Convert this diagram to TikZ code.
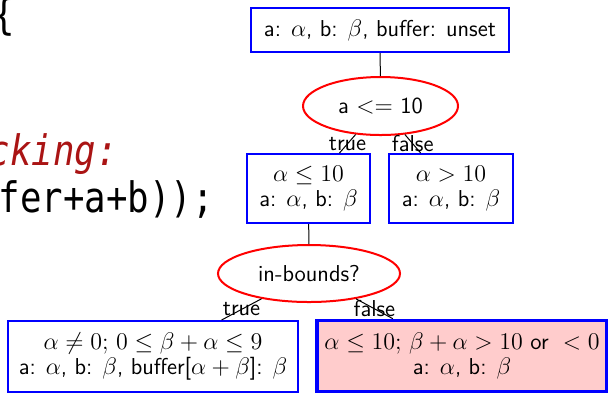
\documentclass[tikz,border=0pt]{standalone}
\usepackage{fontspec}
\setmonofont{DejaVu Sans Mono}
\usetikzlibrary{shapes.geometric}
\definecolor{cmtred}{RGB}{170,20,20}
\definecolor{failpink}{RGB}{255,204,204}
\begin{document}
\begin{tikzpicture}[x=0.5pt,y=-0.5pt,
  every node/.style={font=\sffamily\fontsize{11.5}{12.5}\selectfont},
  statebox/.style={draw=blue, line width=1pt, align=center, inner sep=0pt},
  testell/.style={ellipse, draw=red, line width=1pt, inner sep=0pt},
  edgelbl/.style={inner sep=0pt},
  connector/.style={draw=black, line width=0.5pt},
  codetxt/.style={anchor=base east, inner sep=0pt, font=\ttfamily}
]
\useasboundingbox (0,0) rectangle (608,393);
% code fragments (clipped at the left edge)
\node[codetxt] (c1) at (15,29) {\scalebox{0.85}[1]{\fontsize{21}{24}\selectfont\{}};
\node[codetxt, text=cmtred] (c2) at (118,165) {\scalebox{0.85}[1]{\fontsize{21}{24}\selectfont\itshape cking:}};
\node[codetxt] (c3) at (214,212) {\scalebox{0.85}[1]{\fontsize{21}{24}\selectfont fer+a+b));}};
% tree
\node[statebox, minimum width=129pt, minimum height=22pt] (top) at (380,30) {a: $\alpha$, b: $\beta$, buffer: unset};
\node[testell, minimum width=77.5pt, minimum height=29pt] (e1) at (380.5,106) {a $<=$ 10};
\node[statebox, minimum width=61.5pt, minimum height=34.5pt] (L) at (308.5,188.5) {$\alpha \le 10$\\a: $\alpha$, b: $\beta$};
\node[statebox, minimum width=62pt, minimum height=34.5pt] (R) at (451,188.5) {$\alpha > 10$\\a: $\alpha$, b: $\beta$};
\node[testell, minimum width=91pt, minimum height=28.5pt] (e2) at (309,273.5) {in-bounds?};
\node[statebox, minimum width=145pt, minimum height=35.5pt] (BL) at (153,356.5) {$\alpha \neq 0;$ $0 \le \beta+\alpha \le 9$\\a: $\alpha$, b: $\beta$, buffer[$\alpha+\beta$]: $\beta$};
\node[statebox, line width=1.8pt, fill=failpink, minimum width=145pt, minimum height=35.5pt] (BR) at (462,356) {$\alpha \le 10;$ $\beta+\alpha > 10$ or $\;<0$\\a: $\alpha$, b: $\beta$};
% connectors
\draw[connector] (top) -- (e1);
\draw[connector] (e1) -- node[edgelbl] {true} (L);
\draw[connector] (e1) -- node[edgelbl] {false} (R);
\draw[connector] (L) -- (e2);
\draw[connector] (e2) -- node[edgelbl] {true} (BL);
\draw[connector] (e2) -- node[edgelbl] {false} (BR);
\end{tikzpicture}
\end{document}
